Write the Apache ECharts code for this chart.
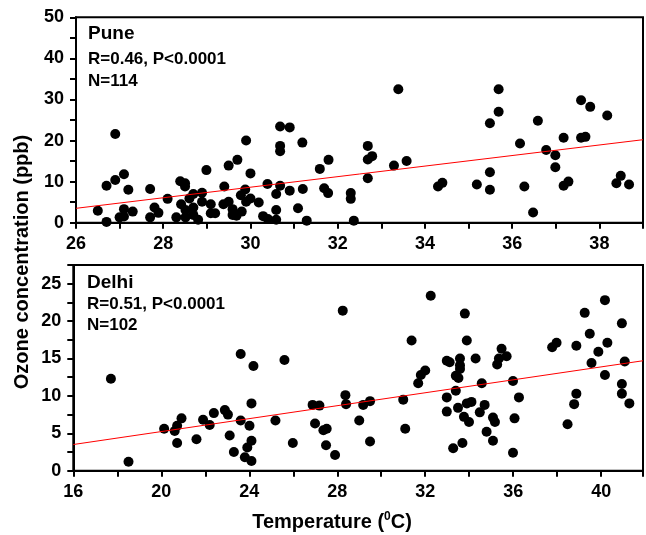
<!DOCTYPE html>
<html><head><meta charset="utf-8">
<script src="https://cdn.jsdelivr.net/npm/echarts@6/dist/echarts.min.js"></script>
<style>html,body{margin:0;padding:0;background:#fff}#c{width:646px;height:535px}</style>
</head><body><div id="c"></div>
<script>
// ---- Pune panel data ----
const puneTemp = [26.90,26.70,26.90,27.10,27.20,26.50,26.70,27.00,27.10,27.10,27.30,27.70,27.70,27.80,27.89,28.10,28.30,28.39,28.50,28.50,28.41,28.51,28.51,28.60,28.69,28.69,28.69,28.80,28.89,28.89,28.99,29.09,29.09,
30.68,30.90,29.90,30.68,30.68,31.19,29.70,29.50,30.00,31.59,31.79,29.40,29.88,30.39,30.68,30.59,30.90,31.20,31.69,31.78,32.30,32.30,29.38,29.50,29.78,29.90,30.00,30.19,29.59,29.59,29.68,29.80,29.19,30.29,30.40,30.59,30.59,31.09,31.29,32.37,
32.69,32.69,32.79,32.69,33.29,33.39,33.58,34.30,34.40,35.19,35.49,35.49,35.49,35.69,35.69,36.18,36.28,36.48,36.59,36.78,36.99,36.99,37.18,37.18,37.29,37.58,37.58,37.68,37.79,38.18,38.39,38.49,38.68];
const puneOzone = [21.6,9.0,10.4,11.8,8.0,2.9,0.2,1.3,3.3,1.5,2.7,8.2,1.3,3.7,2.4,5.8,1.3,10.1,9.6,8.8,4.5,3.1,1.3,5.9,7.0,3.7,1.9,0.7,7.3,5.1,12.8,4.5,2.3,
23.4,23.2,20.0,18.7,17.4,19.5,15.3,13.9,12.0,13.1,15.3,8.8,8.1,9.4,9.0,7.0,7.8,8.2,8.4,7.2,7.2,5.8,4.5,5.1,6.7,5.1,5.9,4.9,3.3,1.9,1.7,2.7,2.3,1.6,0.9,3.1,0.7,3.5,0.5,0.5,
18.7,15.4,16.2,10.8,13.9,32.5,15.0,8.8,9.7,9.3,12.3,8.0,24.2,32.5,27.0,19.3,8.8,2.5,24.8,17.7,16.4,13.5,20.7,9.0,10.0,29.8,20.7,20.9,28.2,26.1,9.6,11.4,9.3];
const puneFitT = [26, 39];
const puneFitO = [3.5, 20.2];

// ---- Delhi panel data ----
const delhiTemp = [17.71,18.51,20.13,20.61,20.72,20.92,20.72,21.60,21.90,22.20,22.39,22.89,23.03,23.11,23.30,23.61,23.61,24.01,24.10,24.19,24.10,23.91,23.80,24.10,
25.60,25.19,25.98,26.88,27.19,26.99,27.37,27.52,27.49,27.90,28.37,28.40,29.18,29.49,29.00,29.49,31.00,31.09,31.38,31.68,31.80,32.00,28.25,
32.25,33.80,33.89,32.98,33.11,33.58,33.58,33.58,33.39,33.51,33.39,32.98,32.98,33.49,33.76,33.99,33.89,34.10,34.29,34.57,34.48,34.70,35.08,35.17,34.79,35.08,33.27,33.69,
35.27,35.35,35.47,35.70,35.99,36.26,36.06,35.99,37.77,37.97,38.87,39.25,39.48,39.87,40.28,39.56,40.17,40.17,40.94,41.07,40.94,40.94,41.28,38.87,38.77,38.47];
const delhiOzone = [12.3,1.2,5.6,5.3,6.0,7.0,3.7,4.2,6.8,6.1,7.7,8.1,7.5,4.7,2.5,15.6,6.7,6.0,9.0,14.0,4.0,3.1,1.8,1.3,
14.8,6.7,3.7,8.8,8.7,6.3,5.4,5.6,3.4,2.1,10.1,8.9,8.8,9.3,6.7,3.9,9.5,5.6,17.4,11.7,12.8,13.4,21.4,
23.4,21.0,17.4,14.7,14.5,15.0,14.1,13.6,12.7,12.4,10.7,9.8,7.9,8.4,7.2,6.5,9.0,9.2,15.0,11.7,7.8,8.8,7.1,6.5,5.2,4.0,3.0,3.7,
14.2,15.0,16.3,15.3,12.0,9.8,7.0,2.4,16.5,17.1,16.7,21.1,18.3,15.9,17.1,14.4,22.8,12.8,19.7,14.6,11.6,10.3,9.0,10.3,8.9,6.2];
const delhiFitT = [16, 41.9];
const delhiFitO = [3.5, 14.7];

const zip = (a, b) => a.map((v, i) => [v, b[i]]);
const FF = '"Liberation Sans", Arial, sans-serif';

function xAxisCfg(grid, min, max, interval, labelEvery) {
  return {
    gridIndex: grid, type: 'value', min: min, max: max, interval: interval,
    axisLine: { onZero: false, lineStyle: { color: '#000', width: 2 } },
    axisTick: { show: true, length: 6, lineStyle: { color: '#000', width: 2 } },
    axisLabel: { color: '#000', fontSize: 18, fontWeight: 'bold', fontFamily: FF, margin: 12,
      formatter: v => (Math.abs(v % labelEvery) < 1e-9 ? String(v) : '') },
    splitLine: { show: false }
  };
}
function yAxisCfg(grid, max, interval, labelEvery) {
  return {
    gridIndex: grid, type: 'value', min: 0, max: max, interval: interval,
    axisLine: { show: true, onZero: false, lineStyle: { color: '#000', width: 2 } },
    axisTick: { show: true, length: 6, lineStyle: { color: '#000', width: 2 } },
    axisLabel: { color: '#000', fontSize: 18, fontWeight: 'bold', fontFamily: FF, margin: 12,
      formatter: v => (Math.abs(v % labelEvery) < 1e-9 ? String(v) : '') },
    splitLine: { show: false }
  };
}

const chart = echarts.init(document.getElementById('c'), null, { renderer: 'canvas' });
chart.setOption({
  animation: false,
  backgroundColor: '#fff',
  grid: [
    { left: 76, top: 17.3, width: 572.7, height: 205.4, show: true, borderColor: '#000', borderWidth: 2 },
    { left: 73.3, top: 265, width: 571, height: 205.7, show: true, borderColor: '#000', borderWidth: 2 }
  ],
  xAxis: [ xAxisCfg(0, 26, 39, 1, 2), xAxisCfg(1, 16, 41.9, 2, 4) ],
  yAxis: [ yAxisCfg(0, 50, 5, 10), yAxisCfg(1, 27.5, 2.5, 5) ],
  series: [
    { type: 'scatter', xAxisIndex: 0, yAxisIndex: 0, data: zip(puneTemp, puneOzone),
      symbol: 'circle', symbolSize: 10, itemStyle: { color: '#000', opacity: 1 } },
    { type: 'line', xAxisIndex: 0, yAxisIndex: 0, data: zip(puneFitT, puneFitO),
      symbol: 'none', lineStyle: { color: '#ff0000', width: 1 }, z: 3 },
    { type: 'scatter', xAxisIndex: 1, yAxisIndex: 1, data: zip(delhiTemp, delhiOzone),
      symbol: 'circle', symbolSize: 10, itemStyle: { color: '#000', opacity: 1 } },
    { type: 'line', xAxisIndex: 1, yAxisIndex: 1, data: zip(delhiFitT, delhiFitO),
      symbol: 'none', lineStyle: { color: '#ff0000', width: 1 }, z: 3 }
  ],
  graphic: [
    { type: 'text', x: 88, y: 34, style: { text: 'Pune', font: 'bold 19px ' + FF, fill: '#000', verticalAlign: 'middle' } },
    { type: 'text', x: 88, y: 59, style: { text: 'R=0.46, P<0.0001', font: 'bold 17px ' + FF, fill: '#000', verticalAlign: 'middle' } },
    { type: 'text', x: 88, y: 81, style: { text: 'N=114', font: 'bold 17px ' + FF, fill: '#000', verticalAlign: 'middle' } },
    { type: 'text', x: 87, y: 283, style: { text: 'Delhi', font: 'bold 19px ' + FF, fill: '#000', verticalAlign: 'middle' } },
    { type: 'text', x: 87, y: 304, style: { text: 'R=0.51, P<0.0001', font: 'bold 17px ' + FF, fill: '#000', verticalAlign: 'middle' } },
    { type: 'text', x: 87, y: 325, style: { text: 'N=102', font: 'bold 17px ' + FF, fill: '#000', verticalAlign: 'middle' } },
    { type: 'text', x: 22, y: 262, rotation: Math.PI / 2,
      style: { text: 'Ozone concentration (ppb)', font: 'bold 20px ' + FF, fill: '#000', align: 'center', verticalAlign: 'middle' } },
    { type: 'text', x: 332, y: 522,
      style: { text: '{a|Temperature (}{s|0}{a|C)}', fill: '#000', align: 'center', verticalAlign: 'middle',
        rich: { a: { font: 'bold 20px ' + FF, fill: '#000', lineHeight: 22 },
                s: { font: 'bold 12px ' + FF, fill: '#000', verticalAlign: 'top', lineHeight: 22 } } } }
  ]
});
</script>
</body></html>
